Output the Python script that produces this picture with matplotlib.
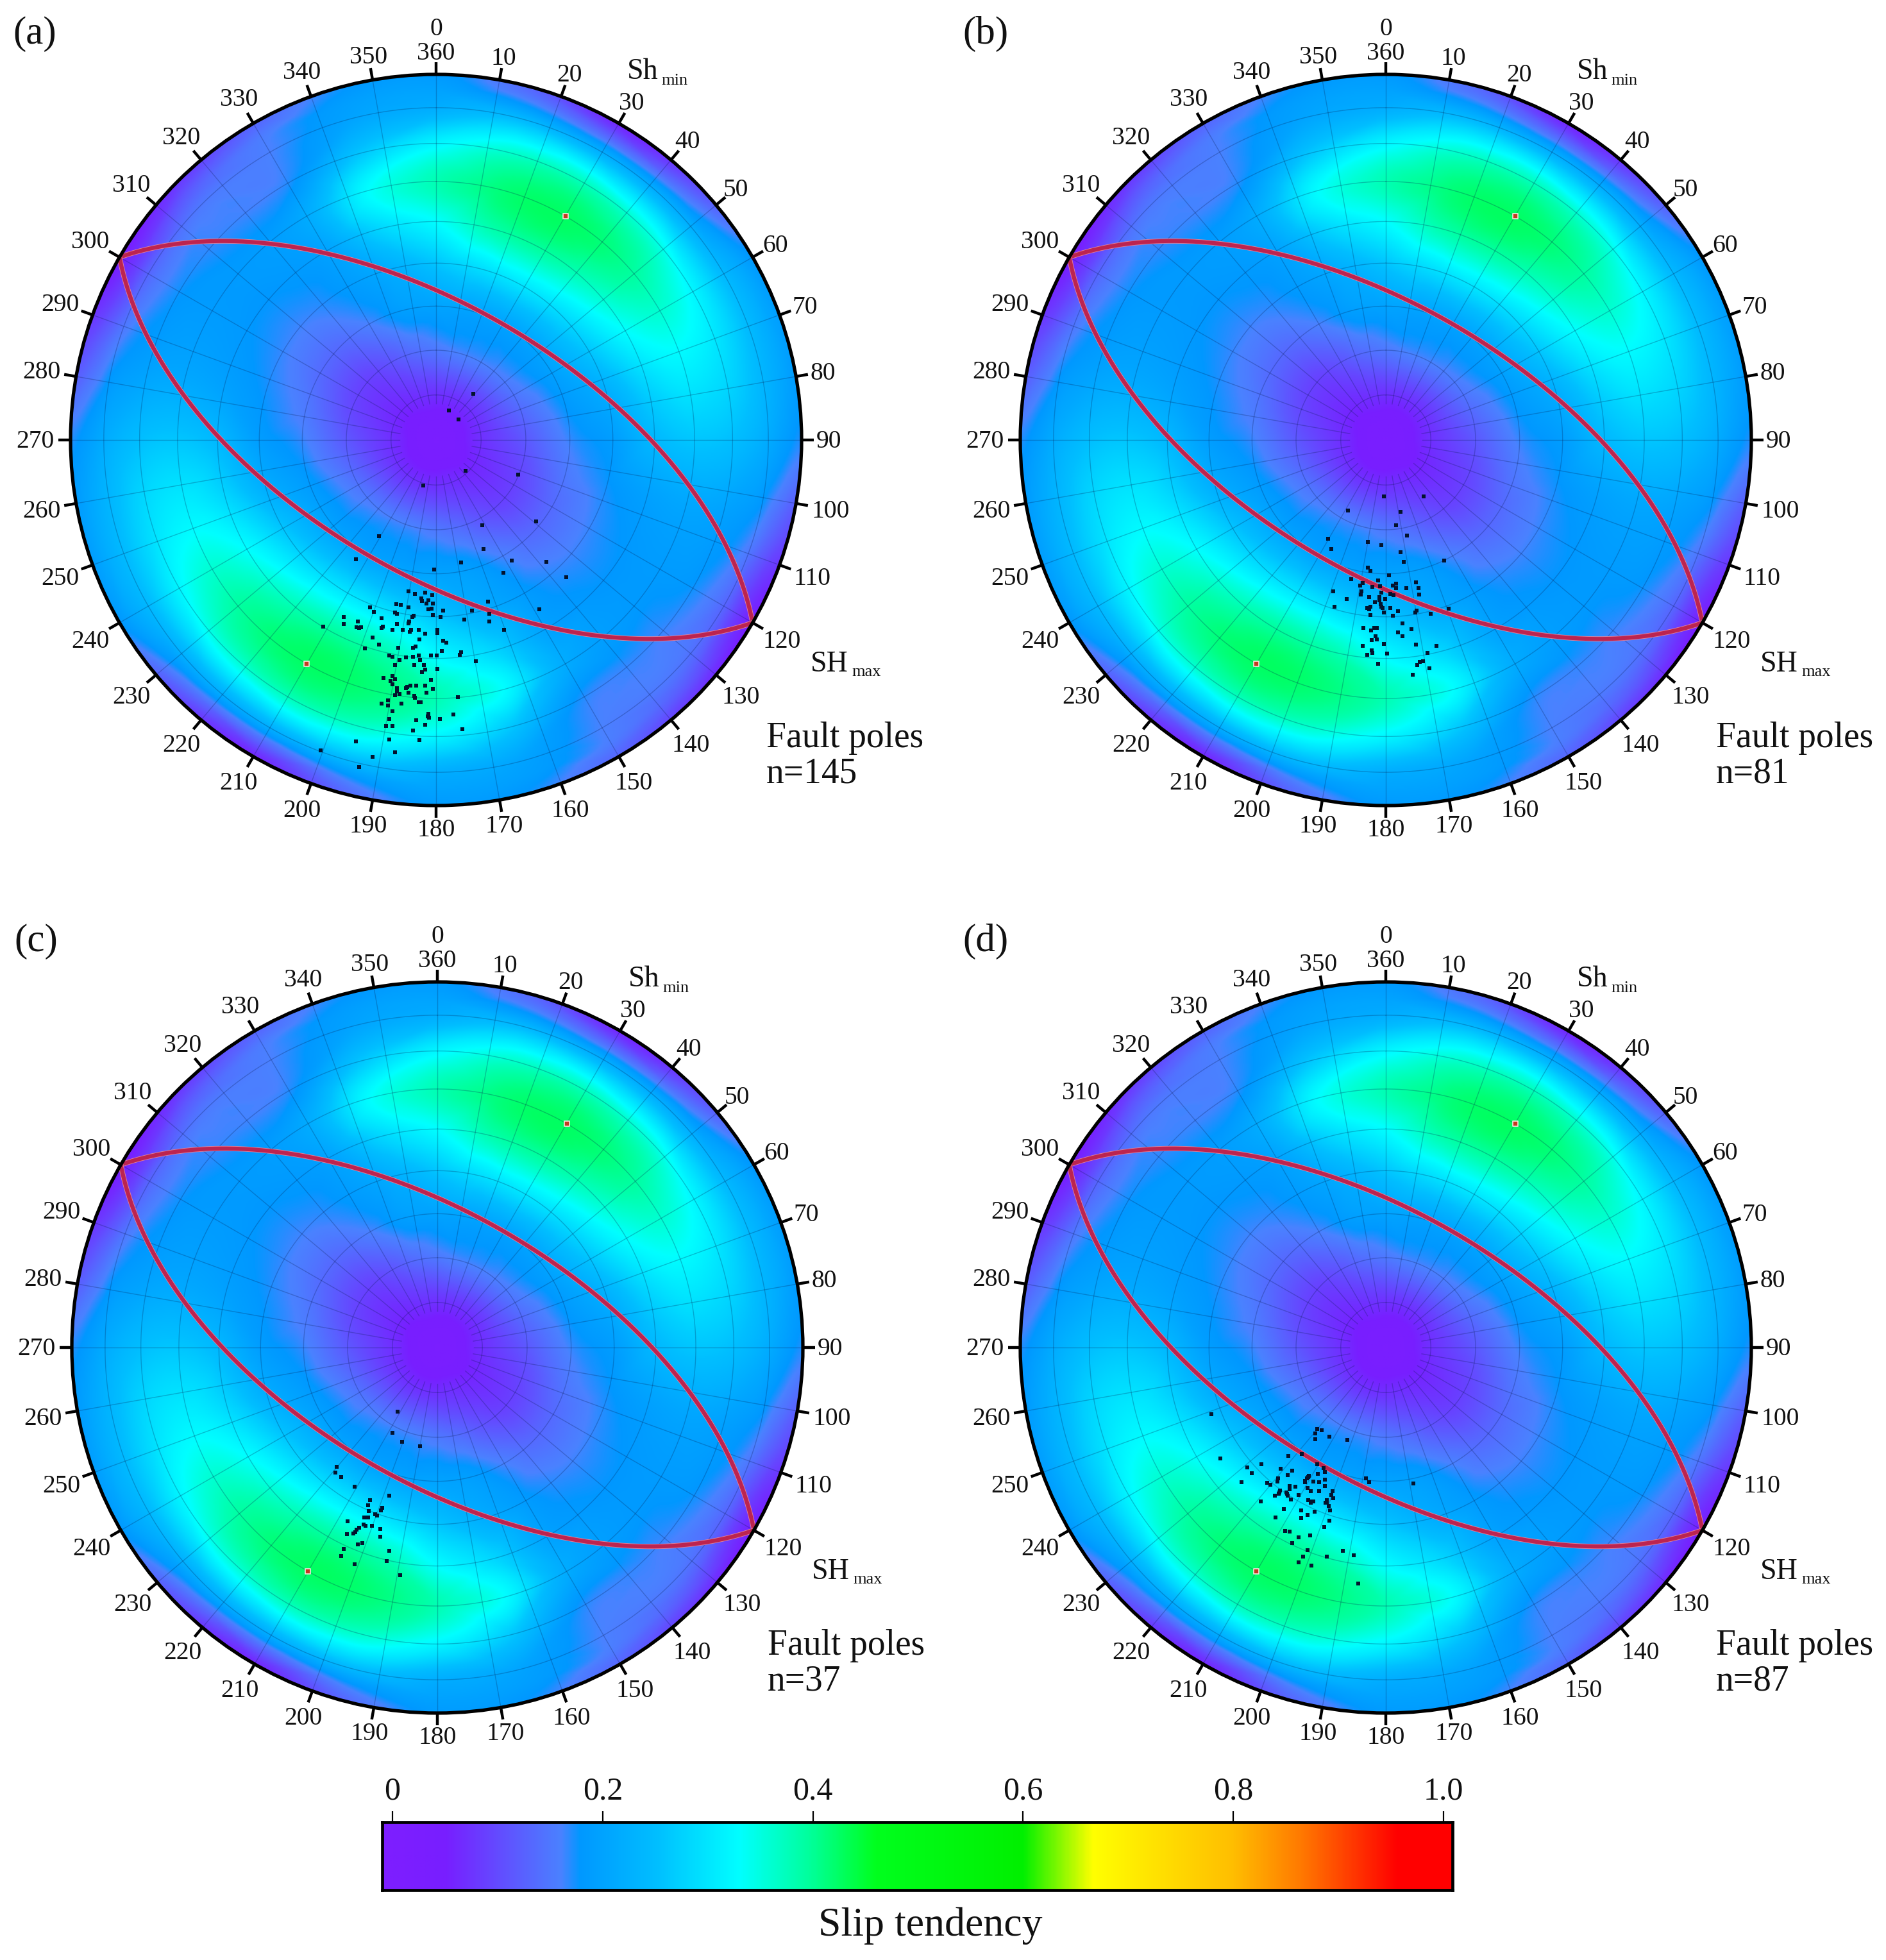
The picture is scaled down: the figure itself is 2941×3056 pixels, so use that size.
from __future__ import annotations

import matplotlib

matplotlib.use("Agg")
import matplotlib.pyplot as plt
import matplotlib.tri as mtri
import numpy as np
from matplotlib.colors import LinearSegmentedColormap
from matplotlib.patches import Circle

plt.rcParams["font.family"] = ["Liberation Serif", "DejaVu Serif"]

FIG_W, FIG_H = 2941, 3056
RIM_PX = 570
NET = 1710.0  # net units on the primitive circle (1/3 reference pixel)

# slip tendency read from the net, every 15 deg of azimuth (repeats after 180)
field_azimuth = [0, 15, 30, 45, 60, 75, 90, 105, 120, 135, 150, 165]
field_radius = [0.123, 0.246, 0.366, 0.484, 0.598, 0.707, 0.811, 0.909, 0.955, 1.0]
field_centre = 0.03
field_rows = [
    [0.07, 0.07, 0.07, 0.07, 0.07, 0.07, 0.07, 0.065, 0.06, 0.06, 0.065, 0.07],
    [0.15, 0.16, 0.16, 0.155, 0.145, 0.13, 0.115, 0.10, 0.09, 0.09, 0.11, 0.135],
    [0.20, 0.20, 0.20, 0.20, 0.195, 0.18, 0.165, 0.15, 0.135, 0.135, 0.16, 0.19],
    [0.26, 0.29, 0.30, 0.285, 0.26, 0.22, 0.19, 0.175, 0.165, 0.165, 0.185, 0.22],
    [0.33, 0.385, 0.395, 0.37, 0.33, 0.28, 0.24, 0.195, 0.18, 0.18, 0.20, 0.28],
    [0.38, 0.415, 0.425, 0.405, 0.36, 0.31, 0.26, 0.205, 0.185, 0.185, 0.215, 0.33],
    [0.32, 0.365, 0.375, 0.355, 0.32, 0.29, 0.25, 0.195, 0.175, 0.165, 0.17, 0.26],
    [0.22, 0.24, 0.22, 0.22, 0.24, 0.24, 0.215, 0.165, 0.13, 0.15, 0.16, 0.20],
    [0.20, 0.17, 0.13, 0.15, 0.21, 0.215, 0.19, 0.13, 0.08, 0.12, 0.155, 0.19],
    [0.185, 0.13, 0.06, 0.10, 0.18, 0.19, 0.17, 0.10, 0.05, 0.08, 0.13, 0.175],
]

# colour scale
scale_stops = [0.0, 0.05, 0.16, 0.178, 0.25, 0.33, 0.40, 0.46, 0.60, 0.667, 0.80, 0.866, 0.957, 1.0]
scale_colors = [
    "#7d1eff", "#781eff", "#4a82ff", "#0098ff", "#00beff", "#00ffff", "#00ff96",
    "#00ff1e", "#00f000", "#ffff00", "#ffbe00", "#ff7800", "#ff0000", "#ff0000",
]

plane_dip_dirs = [30, 210]
plane_dip = 60
pole_trends = [30, 210]
pole_plunge = 30

azimuth_ticks = list(range(10, 360, 10))
scale_ticks = [0.0, 0.2, 0.4, 0.6, 0.8, 1.0]
scale_labels = ["0", "0.2", "0.4", "0.6", "0.8", "1.0"]

panel_labels = ["(a)", "(b)", "(c)", "(d)"]
panel_counts = [145, 81, 37, 87]
panel_centres = [(680, 686), (2161, 686), (682, 2101), (2161, 2101)]

# fault poles as digitised (x right, y down), with the net centre in the same units
poles_a_origin = (690, -192)
poles_a = [
    (865, -408), (750, -329), (796, -288), (828, -47), (1074, -31),
    (630, 20), (1157, 188), (907, 208), (424, 257), (911, 319), (315, 366), (808, 381), (1043, 372),
    (1206, 377), (681, 413), (1006, 429), (1299, 450), (560, 517), (592, 528), (640, 522), (672, 534),
    (622, 548), (625, 562), (655, 557), (645, 574), (676, 574), (503, 575), (524, 580), (560, 591),
    (382, 591), (398, 612), (497, 616), (508, 621), (655, 601), (670, 597), (722, 607), (858, 607),
    (932, 565), (938, 621), (1174, 601), (585, 629), (578, 635), (676, 628), (712, 637), (434, 643),
    (257, 637), (257, 669), (323, 657), (565, 657), (560, 665), (822, 649), (938, 657), (508, 670),
    (162, 680), (317, 685), (330, 688), (340, 685), (442, 680), (434, 686), (487, 695), (535, 695),
    (572, 695), (566, 705), (608, 695), (697, 695), (697, 712), (1007, 695), (640, 715), (392, 732),
    (613, 742), (723, 748), (738, 757), (424, 764), (595, 773), (582, 779), (514, 779), (356, 784),
    (717, 795), (808, 800), (802, 812), (472, 815), (487, 821), (582, 821), (608, 816), (550, 826),
    (665, 816), (692, 816), (518, 836), (614, 836), (875, 842), (498, 862), (587, 862), (634, 862),
    (640, 883), (623, 894), (697, 878), (445, 920), (487, 912), (497, 926), (476, 936), (487, 952),
    (665, 931), (640, 957), (597, 957), (570, 957), (555, 962), (550, 968), (508, 968), (508, 985),
    (676, 972), (560, 989), (644, 989), (518, 997), (498, 1003), (587, 1005), (592, 1013), (792, 1010),
    (466, 1025), (434, 1041), (466, 1050), (529, 1041), (608, 1034), (618, 1034), (487, 1077), (655, 1090),
    (650, 1100), (656, 1106), (472, 1112), (597, 1118), (708, 1112), (770, 1093), (456, 1145), (487, 1145),
    (640, 1140), (582, 1166), (812, 1161), (472, 1208), (613, 1213), (315, 1218), (151, 1260), (498, 1270),
    (392, 1291), (330, 1339),
]

poles_b_origin = (483, -162)
poles_b = [
    (475, 102), (661, 102), (305, 168), (553, 175), (532, 238), (583, 284), (212, 300), (227, 347),
    (400, 316), (462, 331), (553, 363), (568, 409), (756, 403), (400, 436), (411, 451), (499, 472),
    (321, 488), (447, 495), (374, 508), (363, 519), (421, 524), (457, 522), (531, 510), (516, 518),
    (531, 530), (578, 530), (625, 503), (636, 530), (369, 545), (365, 561), (237, 545), (463, 551),
    (505, 558), (520, 565), (640, 561), (405, 572), (300, 582), (454, 574), (454, 587), (479, 581),
    (432, 598), (460, 605), (242, 618), (411, 618), (395, 623), (405, 629), (463, 618), (505, 623),
    (468, 623), (541, 639), (626, 637), (620, 644), (474, 644), (694, 651), (777, 627), (411, 656),
    (515, 660), (562, 697), (379, 717), (442, 717), (428, 717), (415, 728), (604, 722), (541, 738),
    (562, 755), (436, 755), (442, 770), (416, 775), (374, 801), (474, 791), (625, 796), (720, 801),
    (416, 822), (421, 833), (395, 843), (489, 838), (678, 833), (657, 873), (641, 875), (631, 890),
    (447, 885), (688, 906), (610, 937),
]

poles_c_origin = (696, -237)
poles_c = [
    (510, 62), (485, 161), (531, 203), (615, 224), (225, 322), (219, 348), (245, 369), (309, 413),
    (470, 455), (380, 476), (371, 502), (437, 513), (432, 524), (374, 527), (405, 542), (415, 548),
    (353, 559), (372, 559), (277, 575), (351, 590), (360, 597), (391, 596), (330, 605), (318, 615),
    (429, 611), (313, 627), (302, 632), (272, 637), (428, 647), (344, 679), (323, 684), (257, 704),
    (470, 715), (245, 737), (459, 761), (309, 777), (521, 829),
]

poles_d_origin = (933, -237)
poles_d = [
    (116, 76), (611, 145), (632, 150), (604, 166), (668, 181), (604, 192), (752, 196), (478, 271),
    (541, 260), (158, 281), (352, 308), (284, 323), (611, 308), (641, 326), (647, 344), (442, 331),
    (494, 338), (306, 350), (473, 360), (615, 354), (840, 375), (855, 393), (1061, 398), (428, 376),
    (426, 389), (571, 368), (563, 376), (556, 387), (594, 389), (620, 394), (647, 381), (258, 394),
    (378, 397), (394, 405), (647, 410), (484, 412), (510, 415), (568, 420), (484, 425), (583, 436),
    (620, 436), (437, 431), (431, 446), (468, 441), (474, 455), (415, 457), (526, 452), (683, 436),
    (678, 452), (688, 468), (489, 473), (569, 478), (347, 483), (583, 489), (594, 484), (657, 478),
    (652, 490), (667, 505), (457, 520), (536, 526), (673, 526), (599, 531), (568, 547), (416, 557),
    (536, 562), (668, 573), (644, 604), (463, 620), (484, 623), (578, 641), (526, 652), (494, 679),
    (568, 710), (731, 715), (783, 736), (547, 741), (657, 741), (526, 768), (584, 783), (804, 867),
    (556, 392), (436, 440), (484, 418), (656, 485), (572, 362), (584, 482), (470, 448),
]

panel_poles = [
    (poles_a, poles_a_origin),
    (poles_b, poles_b_origin),
    (poles_c, poles_c_origin),
    (poles_d, poles_d_origin),
]


def polar_to_net(azimuth, radius):
    theta = np.radians(azimuth)
    return radius * np.sin(theta), radius * np.cos(theta)


def equal_area_radius(plunge):
    return np.sqrt(2.0) * np.sin(np.radians(90.0 - plunge) / 2.0)


def build_field():
    azimuth = np.array(field_azimuth + [a + 180 for a in field_azimuth], dtype=float)
    rows = np.hstack([np.array(field_rows), np.array(field_rows)])
    radius = np.array(field_radius + [1.07])
    rows = np.vstack([rows, rows[-1]])
    rr, aa = np.meshgrid(radius, azimuth, indexing="ij")
    xs, ys = polar_to_net(aa.ravel(), rr.ravel())
    xs = np.append(xs, 0.0)
    ys = np.append(ys, 0.0)
    zs = np.append(rows.ravel(), field_centre)
    tri = mtri.Triangulation(xs, ys)
    interp = mtri.CubicTriInterpolator(tri, zs, kind="geom")
    axis = np.linspace(-1.01, 1.01, 900)
    gx, gy = np.meshgrid(axis, axis)
    return np.clip(np.ma.filled(interp(gx, gy), field_centre), 0.0, 1.0)


def plane_trace(dip_dir, dip):
    strike = dip_dir - 90.0
    t = np.radians(np.linspace(0.0, 180.0, 361))
    dip_rad = np.radians(dip)
    plunge = np.degrees(np.arcsin(np.sin(t) * np.sin(dip_rad)))
    trend = strike + np.degrees(np.arctan2(np.sin(t) * np.cos(dip_rad), np.cos(t)))
    return polar_to_net(trend, equal_area_radius(plunge))


def text_at(ax, x, y, s, size, **kwargs):
    ax.text(x * NET, y * NET, s, fontsize=size, color="#111111", clip_on=False, **kwargs)


def draw_net(fig, centre, label, count, poles, origin, field, cmap):
    half_px = 640
    cx, cy = centre
    ax = fig.add_axes([
        (cx - half_px) / FIG_W,
        1.0 - (cy + half_px) / FIG_H,
        2 * half_px / FIG_W,
        2 * half_px / FIG_H,
    ])
    span = NET * half_px / RIM_PX
    ax.set_xlim(-span, span)
    ax.set_ylim(-span, span)
    ax.axis("off")

    image = ax.imshow(
        field, extent=[-1.01 * NET, 1.01 * NET, -1.01 * NET, 1.01 * NET], origin="lower",
        cmap=cmap, vmin=0.0, vmax=1.0, interpolation="bilinear", zorder=1,
    )
    clip = Circle((0, 0), NET, transform=ax.transData)
    image.set_clip_path(clip)

    grid_style = {"color": "#06184a", "linewidth": 1.0, "alpha": 0.26, "zorder": 2}
    ring_angles = np.linspace(0.0, 360.0, 361)
    for dip in range(10, 90, 10):
        rx, ry = polar_to_net(ring_angles, NET * equal_area_radius(90 - dip))
        ax.plot(rx, ry, **grid_style)
    for az in range(0, 360, 10):
        sx, sy = polar_to_net(az, np.array([0.10, 1.0]) * NET)
        ax.plot(sx, sy, **grid_style)

    for dip_dir in plane_dip_dirs:
        trace_x, trace_y = plane_trace(dip_dir, plane_dip)
        ax.plot(trace_x * NET, trace_y * NET, color="#e0809c", linewidth=5.8, zorder=3)
        ax.plot(trace_x * NET, trace_y * NET, color="#bc2450", linewidth=4.5, zorder=3)

    pts = np.array(poles, dtype=float)
    ax.scatter(pts[:, 0] - origin[0], origin[1] - pts[:, 1], s=20, marker="s", c="#03132e",
               linewidths=0, zorder=4)

    px, py = polar_to_net(np.array(pole_trends, dtype=float), NET * equal_area_radius(pole_plunge))
    ax.scatter(px, py, s=40, marker="s", c="#c43a20", edgecolors="#f4e4dc", linewidths=1.2, zorder=5)

    ax.add_patch(Circle((0, 0), NET, fill=False, edgecolor="black", linewidth=3.8, zorder=6))
    for az in azimuth_ticks + [360]:
        tx, ty = polar_to_net(az, np.array([1.0, 1.033]) * NET)
        ax.plot(tx, ty, color="black", linewidth=3.2, solid_capstyle="butt", zorder=6)
        extra = abs(np.sin(np.radians(az))) * (0.035 if az >= 100 else 0.012)
        lx, ly = polar_to_net(az, 1.062 + extra)
        text_at(ax, lx, ly - 0.005, str(az), 28.5, ha="center", va="center")
    text_at(ax, 0.0, 1.123, "0", 28.5, ha="center", va="center")

    text_at(ax, 0.523, 0.988, "Sh", 33, ha="left", va="baseline")
    text_at(ax, 0.617, 0.972, "min", 19, ha="left", va="baseline")
    text_at(ax, 1.025, -0.633, "SH", 33, ha="left", va="baseline")
    text_at(ax, 1.137, -0.646, "max", 19, ha="left", va="baseline")
    text_at(ax, 0.903, -0.84, "Fault poles", 40, ha="left", va="baseline")
    text_at(ax, 0.903, -0.937, f"n={count}", 40, ha="left", va="baseline")
    text_at(ax, -1.158, 1.084, label, 44, ha="left", va="baseline")


def draw_scale(fig, cmap):
    left, right, top, bottom = 596, 2265, 2841, 2947
    cax = fig.add_axes([left / FIG_W, 1.0 - bottom / FIG_H, (right - left) / FIG_W, (bottom - top) / FIG_H])
    low, high = -0.0098, 1.0085
    cax.imshow(
        np.linspace(low, high, 1200)[None, :], extent=[low, high, 0, 1], aspect="auto",
        cmap=cmap, vmin=0.0, vmax=1.0,
    )
    cax.set_yticks([])
    cax.xaxis.tick_top()
    cax.set_xticks(scale_ticks)
    cax.set_xticklabels(scale_labels, fontsize=36, color="#111111")
    cax.tick_params(axis="x", length=12, width=1.6, pad=6)
    for spine in cax.spines.values():
        spine.set_linewidth(3.4)
    cax.set_xlabel("Slip tendency", fontsize=46, color="#111111", labelpad=19, x=0.512)


def main():
    cmap = LinearSegmentedColormap.from_list("slip", list(zip(scale_stops, scale_colors)), N=1024)
    field = build_field()
    fig = plt.figure(figsize=(FIG_W / 100, FIG_H / 100), dpi=100)
    for centre, label, count, (poles, origin) in zip(panel_centres, panel_labels, panel_counts, panel_poles):
        draw_net(fig, centre, label, count, poles, origin, field, cmap)
    draw_scale(fig, cmap)
    fig.savefig("out.png", dpi=100)
    plt.close(fig)


main()
